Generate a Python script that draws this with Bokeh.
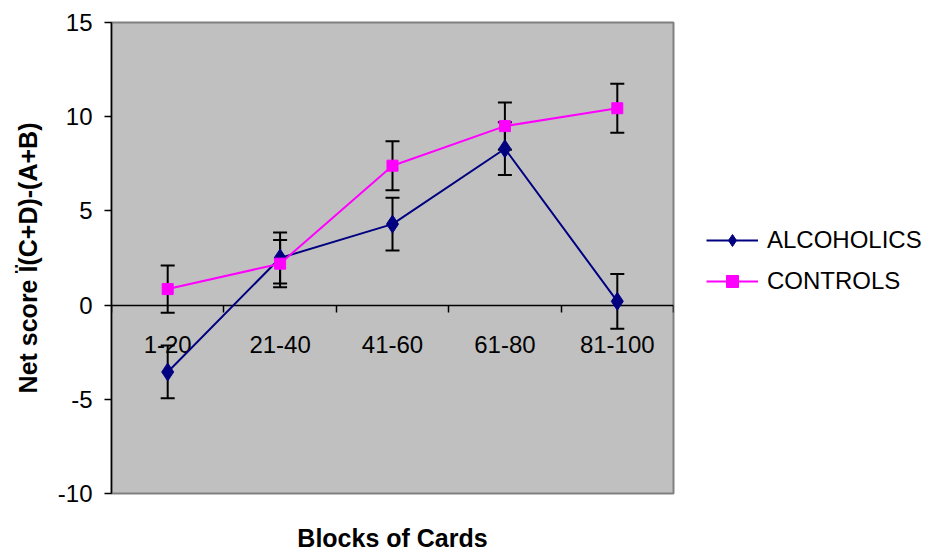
from bokeh.plotting import figure
from bokeh.models import (Range1d, FixedTicker, LinearAxis, Whisker, TeeHead,
                          ColumnDataSource, Legend, LegendItem)
from bokeh.embed import file_html
from bokeh.resources import INLINE

categories = ["1-20", "21-40", "41-60", "61-80", "81-100"]
alcoholics = [-3.55, 2.5, 4.3, 8.3, 0.2]
alcoholics_se = [1.4, 1.35, 1.4, 1.4, 1.45]
controls = [0.85, 2.2, 7.4, 9.5, 10.45]
controls_se = [1.25, 1.25, 1.3, 1.25, 1.3]
y_ticks = [-10, -5, 0, 5, 10, 15]

FONT = "Liberation Sans"
xs = [i + 0.5 for i in range(len(categories))]

p = figure(x_range=Range1d(0, len(categories)), y_range=Range1d(-10, 15),
           frame_width=562, frame_height=471,
           min_border_left=111, min_border_top=22, min_border_bottom=56, min_border_right=250,
           output_backend="svg", toolbar_location=None,
           background_fill_color="#C0C0C0", border_fill_color="white",
           outline_line_color="#808080", outline_line_width=2)
p.grid.visible = False

# y axis
ya = p.yaxis[0]
ya.ticker = FixedTicker(ticks=y_ticks)
ya.major_label_overrides = {t: str(t) for t in y_ticks}
ya.major_label_text_font = FONT
ya.major_label_text_font_size = "24px"
ya.major_label_text_color = "black"
ya.major_tick_out = 7
ya.major_tick_in = 0
ya.minor_tick_out = 0
ya.minor_tick_in = 0
ya.major_tick_line_color = "black"
ya.major_tick_line_width = 1.5
ya.axis_line_color = "black"
ya.axis_line_width = 1.5
ya.major_label_standoff = 12
ya.axis_label = "Net score Ï(C+D)-(A+B)"
ya.axis_label_text_font = FONT
ya.axis_label_text_font_style = "bold"
ya.axis_label_text_font_size = "25px"
ya.axis_label_text_color = "black"
ya.axis_label_standoff = 13

# bottom axis: only the title
xa = p.xaxis[0]
xa.ticker = FixedTicker(ticks=[])
xa.axis_line_color = None
xa.major_tick_line_color = None
xa.minor_tick_line_color = None
xa.axis_label = "Blocks of Cards"
xa.axis_label_text_font = FONT
xa.axis_label_text_font_style = "bold"
xa.axis_label_text_font_size = "25px"
xa.axis_label_text_color = "black"
xa.axis_label_standoff = 30

# category axis crossing at y = 0
bound_axis = LinearAxis(fixed_location=0,
                        ticker=FixedTicker(ticks=list(range(len(categories) + 1))),
                        major_label_overrides={i: "" for i in range(len(categories) + 1)},
                        major_tick_out=7, major_tick_in=0,
                        minor_tick_out=0, minor_tick_in=0,
                        major_tick_line_color="black", major_tick_line_width=1.5,
                        axis_line_color="black", axis_line_width=1.5)
cat_axis = LinearAxis(fixed_location=0,
                      ticker=FixedTicker(ticks=xs),
                      major_label_overrides={x: c for x, c in zip(xs, categories)},
                      major_tick_out=0, major_tick_in=0,
                      minor_tick_out=0, minor_tick_in=0,
                      major_tick_line_color=None, axis_line_color=None,
                      major_label_standoff=31,
                      major_label_text_font=FONT, major_label_text_font_size="24px",
                      major_label_text_color="black")
cat_axis.level = "underlay"
bound_axis.level = "underlay"
p.add_layout(bound_axis, "below")
p.add_layout(cat_axis, "below")

src_a = ColumnDataSource(dict(x=xs, y=alcoholics,
                              lo=[v - e for v, e in zip(alcoholics, alcoholics_se)],
                              hi=[v + e for v, e in zip(alcoholics, alcoholics_se)]))
src_c = ColumnDataSource(dict(x=xs, y=controls,
                              lo=[v - e for v, e in zip(controls, controls_se)],
                              hi=[v + e for v, e in zip(controls, controls_se)]))

for src in (src_c, src_a):
    w = Whisker(base="x", upper="hi", lower="lo", source=src, dimension="height",
                line_color="black", line_width=2,
                upper_head=TeeHead(size=14, line_color="black", line_width=2),
                lower_head=TeeHead(size=14, line_color="black", line_width=2),
                level="underlay")
    p.add_layout(w)

la = p.line("x", "y", source=src_a, line_color="#000080", line_width=2)
ma = p.scatter("x", "y", source=src_a, marker="diamond", size=18,
               fill_color="#000080", line_color="#000080")
lc = p.line("x", "y", source=src_c, line_color="#FF00FF", line_width=2)
mc = p.scatter("x", "y", source=src_c, marker="square", size=11,
               fill_color="#FF00FF", line_color="#FF00FF")

legend = Legend(items=[LegendItem(label="ALCOHOLICS", renderers=[la, ma]),
                       LegendItem(label="CONTROLS", renderers=[lc, mc])],
                location=(33, 197), orientation="vertical",
                border_line_color=None, background_fill_alpha=0,
                label_text_font=FONT, label_text_font_size="24px",
                label_text_color="black",
                glyph_width=52, glyph_height=30, label_height=30,
                label_standoff=9, spacing=11, padding=0, margin=0)
p.add_layout(legend, "right")

open("out.html", "w").write(file_html(p, INLINE))
